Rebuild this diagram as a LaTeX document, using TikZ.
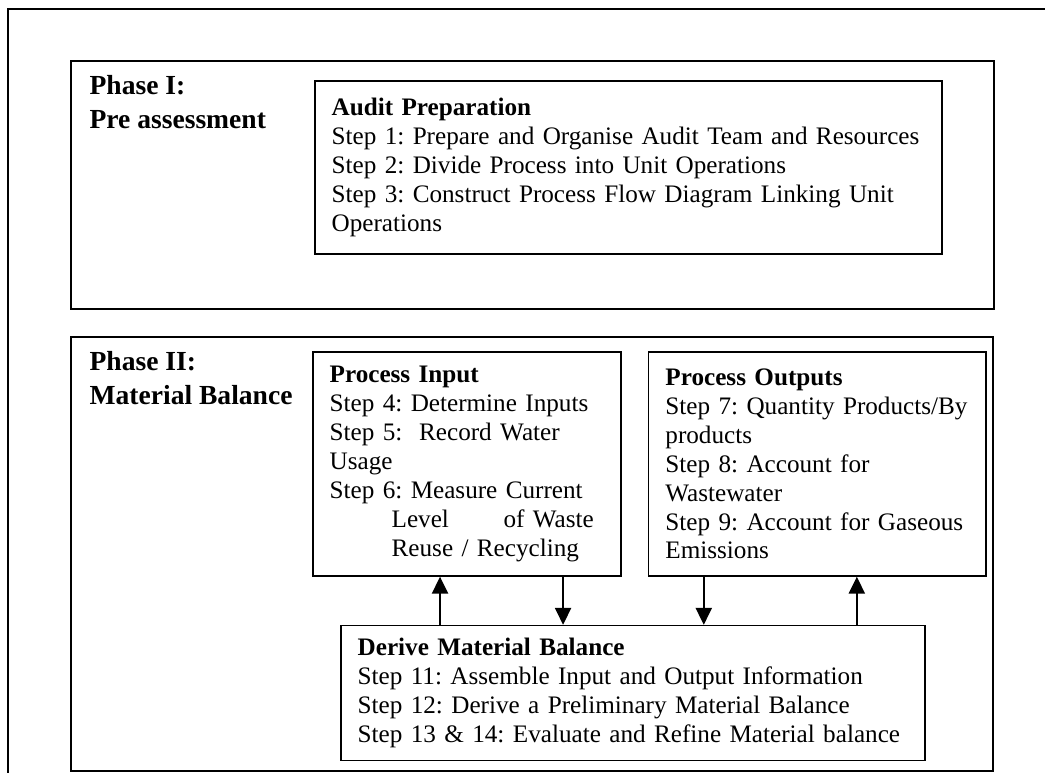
\documentclass[tikz,border=0pt]{standalone}
\usepackage{fontspec}
\setmainfont{Liberation Serif}
\usetikzlibrary{arrows.meta,positioning}

\begin{document}
\begin{tikzpicture}[x=0.025cm, y=-0.025cm, >={Triangle[length=12pt,width=11.5pt]}, line width=1.2pt,
  phase/.style={draw, anchor=north west, inner sep=0pt},
  phaselabel/.style={anchor=north west, align=left, inner xsep=0.47cm, inner ysep=0.36cm, font=\fontsize{19.6}{24.2}\selectfont\bfseries},
  stepbox/.style={draw, align=left, inner xsep=0.42cm, inner ysep=0pt, font=\fontsize{17.9}{20.6}\selectfont\frenchspacing}]
  \useasboundingbox (0,0) rectangle (1045,772);
  \clip (0,0) rectangle (1045,772);
  \draw (8,790) |- (1060,9);
  \node[phase, minimum width=23.075cm, minimum height=6.2cm] (phase1) at (70,60) {};
  \node[phase, minimum width=23.05cm, minimum height=10.85cm] (phase2) at (70,336) {};
  \node[phaselabel] (label1) at (phase1.north west) {Phase I:\\Pre assessment};
  \node[phaselabel] (label2) at (phase2.north west) {Phase II:\\Material Balance};
  \node[stepbox, anchor=north west, text width=14.835cm, minimum height=4.325cm] (audit) at (314,80)
    {\textbf{Audit Preparation}\\Step 1: Prepare and Organise Audit Team and Resources\\Step 2: Divide Process into Unit Operations\\Step 3: Construct Process Flow Diagram Linking Unit\\Operations};
  \node[stepbox, anchor=north west, text width=6.86cm, minimum height=5.6cm] (input) at (312,351)
    {\textbf{Process Input}\\Step 4: Determine Inputs\\Step 5: \ Record Water\\Usage\\Step 6: Measure Current\\\hspace*{1.55cm}\makebox[5.05cm][l]{Level\hfill of Waste}\\\hspace*{1.55cm}Reuse / Recycling};
  \node[stepbox, right=0.65cm of input, text width=7.585cm, minimum height=5.6cm] (outputs)
    {\textbf{Process Outputs}\\Step 7: Quantity Products/By\\products\\Step 8: Account for\\Wastewater\\Step 9: Account for Gaseous\\Emissions};
  \node[stepbox, below right=1.2cm and 0.7cm of input.south west, text width=13.76cm, minimum height=3.375cm] (derive)
    {\textbf{Derive Material Balance}\\Step 11: Assemble Input and Output Information\\Step 12: Derive a Preliminary Material Balance\\Step 13 \& 14: Evaluate and Refine Material balance};
  \coordinate (in1) at ([xshift=3.2cm]input.south west);
  \coordinate (in2) at ([xshift=6.275cm]input.south west);
  \coordinate (out1) at ([xshift=1.4cm]outputs.south west);
  \coordinate (out2) at ([xshift=5.225cm]outputs.south west);
  \draw[->] (derive.north -| in1) -- (in1);
  \draw[->] (in2) -- (derive.north -| in2);
  \draw[->] (out1) -- (derive.north -| out1);
  \draw[->] (derive.north -| out2) -- (out2);
\end{tikzpicture}
\end{document}
